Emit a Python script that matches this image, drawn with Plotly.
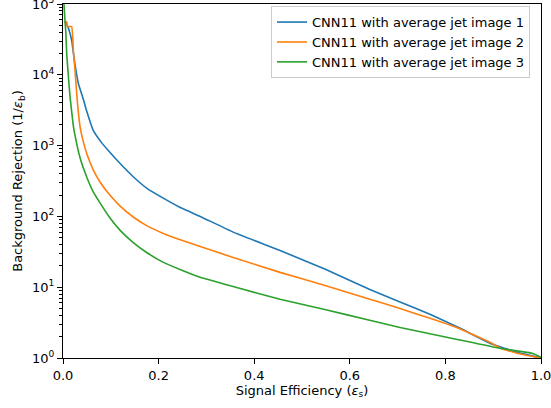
import plotly.graph_objects as go

# Series 1 (blue)
eff_1 = [0.004, 0.010, 0.018, 0.025, 0.032, 0.036, 0.043, 0.050, 0.063, 0.080, 0.0948, 0.119,
         0.147, 0.175, 0.217, 0.250, 0.287, 0.356, 0.454, 0.550, 0.642, 0.705, 0.770, 0.831,
         0.893, 0.950, 1.000]
rej_1 = [5.6e4, 4.8e4, 3.1e4, 1.41e4, 7.6e3, 6.2e3, 4.4e3, 3.0e3, 1660, 1120, 851, 562,
         363, 251, 170, 129, 100, 60, 33, 17.8, 9.3, 6.2, 4.07, 2.63,
         1.62, 1.2, 1.0]

# Series 2 (orange)
eff_2 = [0.004, 0.008, 0.009, 0.018, 0.0216, 0.025, 0.0286, 0.032, 0.036, 0.043, 0.050, 0.063,
         0.077, 0.098, 0.119, 0.147, 0.175, 0.210, 0.250, 0.287, 0.356, 0.454, 0.550, 0.642,
         0.705, 0.768, 0.831, 0.900, 0.914, 0.950, 1.000]
rej_2 = [5.6e4, 5.6e4, 4.8e4, 4.8e4, 2.2e4, 1.2e4, 5.5e3, 3.0e3, 1.8e3, 1.1e3, 759, 457,
         309, 200, 141, 98, 74, 57.5, 45.7, 37.6, 26.3, 16.2, 10.5, 6.76,
         5.0, 3.63, 2.57, 1.58, 1.38, 1.17, 1.0]

# Series 3 (green)
eff_3 = [0.002, 0.004, 0.006, 0.0077, 0.011, 0.0146, 0.0216, 0.025, 0.036, 0.050, 0.063, 0.0774,
         0.098, 0.120, 0.147, 0.175, 0.210, 0.250, 0.287, 0.356, 0.454, 0.550, 0.635, 0.705,
         0.820, 0.914, 0.983, 1.000]
rej_3 = [1e5, 6.0e4, 3.9e4, 2.0e4, 1.0e4, 5.0e3, 1.9e3, 1.41e3, 661, 355, 224, 155,
         95.5, 63, 42.7, 30.9, 22.4, 17.2, 13.8, 10.2, 6.76, 4.79, 3.5, 2.69,
         1.86, 1.37, 1.16, 1.02]

names = ["CNN11 with average jet image 1",
         "CNN11 with average jet image 2",
         "CNN11 with average jet image 3"]
colors = ["#1f77b4", "#ff7f0e", "#2ca02c"]

x_ticks = [0.0, 0.2, 0.4, 0.6, 0.8, 1.0]
x_ticktext = ["0.0", "0.2", "0.4", "0.6", "0.8", "1.0"]
y_ticks = [1, 10, 100, 1000, 10000, 100000]
y_ticktext = ["10<sup>0</sup>", "10<sup>1</sup>", "10<sup>2</sup>",
              "10<sup>3</sup>", "10<sup>4</sup>", "10<sup>5</sup>"]
y_minor = [m * 10 ** e for e in range(0, 5) for m in range(2, 10)]

fig = go.Figure()
for xs, ys, nm, c in zip([eff_1, eff_2, eff_3], [rej_1, rej_2, rej_3], names, colors):
    fig.add_trace(go.Scatter(x=xs, y=ys, mode="lines", name=nm,
                             line=dict(color=c, width=1.6, shape="spline", smoothing=0.4)))

font = "DejaVu Sans, sans-serif"
fig.update_layout(
    width=551, height=408,
    margin=dict(l=63, r=10, t=4, b=50),
    paper_bgcolor="white", plot_bgcolor="white",
    font=dict(family=font, size=13, color="black"),
    showlegend=True,
    legend=dict(x=0.977, y=0.994, xanchor="right", yanchor="top",
                bgcolor="rgba(255,255,255,0.8)", bordercolor="#cccccc", borderwidth=1,
                font=dict(size=13), tracegroupgap=0, itemwidth=30),
    xaxis=dict(range=[0, 1.00001], tickvals=x_ticks, ticktext=x_ticktext,
               automargin=False, ticklabeloverflow="allow",
               showgrid=False, zeroline=False, showline=True, mirror=True,
               linecolor="black", linewidth=1, ticks="outside", ticklen=5,
               tickcolor="black",
               title=dict(text="Signal Efficiency (<i>ε</i><sub>s</sub>)", standoff=3,
                          font=dict(size=13))),
    yaxis=dict(type="log", range=[-0.00001, 5.00001], tickvals=y_ticks, ticktext=y_ticktext,
               automargin=False, ticklabeloverflow="allow",
               showgrid=False, zeroline=False, showline=True, mirror=True,
               linecolor="black", linewidth=1, ticks="outside", ticklen=5,
               tickcolor="black",
               minor=dict(tickvals=y_minor, ticks="outside", ticklen=3, tickcolor="black",
                          showgrid=False),
               title=dict(text="Background Rejection (1/<i>ε</i><sub>b</sub>)", standoff=6,
                          font=dict(size=13))),
)

fig.write_html("out.html", config={"displayModeBar": False},
               post_script="document.body.style.margin='0';document.body.style.overflow='hidden';")
